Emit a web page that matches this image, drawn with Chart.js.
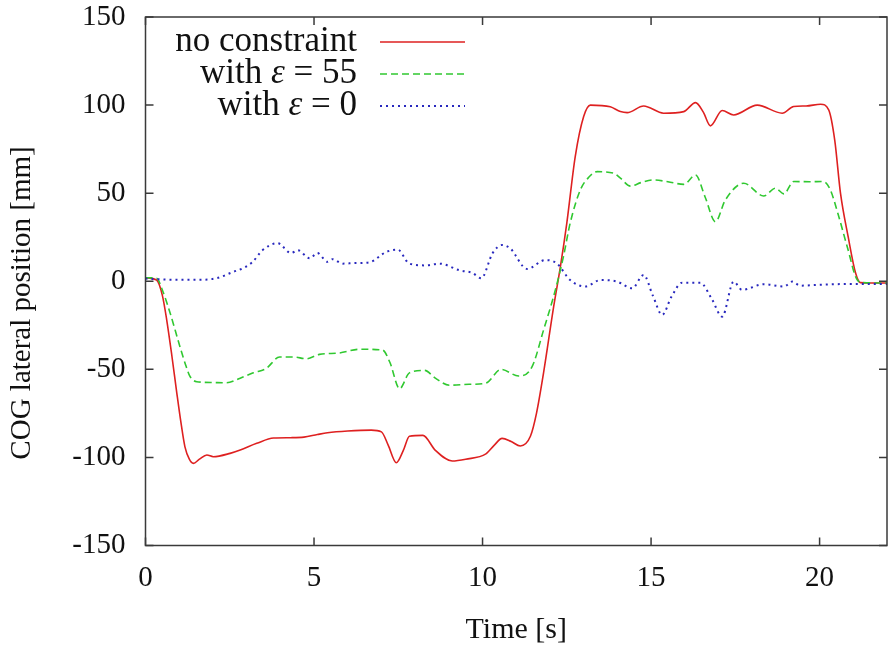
<!DOCTYPE html>
<html>
<head>
<meta charset="utf-8">
<title>COG lateral position</title>
<script src="https://cdn.jsdelivr.net/npm/chart.js@4.4.1/dist/chart.umd.min.js"></script>
<style>
  body { margin: 0; background: #fff; }
  #wrap { width: 896px; height: 648px; }
</style>
</head>
<body>
<div id="wrap"><canvas id="cogChart"></canvas></div>
<script>
// values (time in s, position in mm)
const seriesNames = ['no constraint', 'with \u03b5 = 55', 'with \u03b5 = 0'];

const redTime = [0, 0.33, 0.5, 0.63, 0.78, 0.93, 1.05, 1.17, 1.3, 1.42, 1.6, 1.82, 2.01, 2.51, 2.81, 3.3, 3.8, 4.3, 4.7, 5.1, 5.4, 6.0, 6.7, 7.0, 7.2, 7.44, 7.65, 7.83, 8.23, 8.6, 9.1, 9.5, 10.1, 10.35, 10.58, 10.85, 11.12, 11.42, 11.6, 11.81, 12.11, 12.31, 12.5, 12.75, 13.0, 13.2, 13.79, 14.09, 14.29, 14.78, 15.37, 15.97, 16.32, 16.55, 16.76, 17.11, 17.45, 18.15, 18.89, 19.23, 19.6, 20.03, 20.27, 20.45, 20.62, 20.85, 21.07, 21.21, 21.5, 22];
const redPos = [2, 0.7, -8, -22, -42, -63.6, -80, -94, -101, -103.4, -101, -98.6, -99.6, -97.7, -95.8, -92, -89, -88.8, -88.5, -87, -86, -85, -84.5, -85.5, -93, -103, -96, -88, -87.5, -96, -102, -101, -98, -93, -89.2, -91, -93.5, -88, -75, -52, -14.4, 8.3, 33, 70.8, 93.5, 100, 99, 96.3, 95.7, 99.5, 95.4, 96.3, 101.4, 96, 88.2, 96.9, 94.4, 100, 95.4, 99.2, 99.5, 100.5, 97.3, 80, 50, 25, 4.5, -0.8, -1, -1];

const greenTime = [0, 0.33, 0.5, 0.73, 1.02, 1.2, 1.32, 1.52, 2.0, 2.41, 2.81, 3.2, 3.58, 3.98, 4.4, 4.77, 5.16, 5.76, 6.35, 7.03, 7.25, 7.54, 7.83, 8.28, 8.6, 9.02, 9.6, 10.1, 10.55, 11.07, 11.47, 11.81, 12.16, 12.4, 12.6, 12.9, 13.15, 13.4, 13.89, 14.09, 14.39, 14.7, 15.08, 15.5, 15.97, 16.32, 16.6, 16.91, 17.2, 17.75, 18.34, 18.69, 18.94, 19.23, 19.7, 20.12, 20.32, 20.55, 20.82, 21.12, 21.3, 22];
const greenPos = [2, 1.7, -5, -18, -37, -48, -54, -57, -57.5, -57.6, -55, -52, -49.5, -43, -43, -44, -41.5, -40.7, -38.6, -39, -46, -61, -52, -50.6, -55, -59, -58.5, -57.8, -50, -53.8, -48.5, -27.7, -5, 14, 33, 51.8, 59, 62.2, 61.3, 58.5, 54, 56, 57.5, 56.5, 55, 60.3, 48, 33.8, 46, 55.6, 48.4, 52.8, 49.6, 56.6, 56.5, 56.6, 51.8, 38, 19.6, 0.7, -0.8, -1];

const blueTime = [0, 0.5, 1.0, 1.5, 2.1, 2.6, 2.9, 3.18, 3.47, 3.92, 4.32, 4.52, 4.87, 5.1, 5.4, 5.55, 5.85, 6.2, 6.65, 7.14, 7.48, 7.83, 8.33, 8.72, 9.32, 9.7, 9.96, 10.3, 10.58, 10.82, 11.32, 11.86, 12.2, 12.6, 13.05, 13.5, 13.99, 14.44, 14.78, 15.05, 15.33, 15.6, 15.92, 16.46, 16.8, 17.11, 17.45, 17.7, 18.34, 18.94, 19.19, 19.43, 20.0, 21.0, 22];
const bluePos = [1.5, 1, 0.8, 0.8, 1.7, 5.3, 7.5, 11, 17.6, 21.6, 16, 17.6, 13, 16, 11, 12.5, 10, 10.3, 10.8, 16.6, 18, 10, 9, 10, 6.2, 4.7, 1.7, 16, 20.6, 18.7, 7, 12, 10.2, 0.7, -3, 0.7, -0.2, -4, 3.6, -8, -19.1, -9, -0.8, -0.8, -10, -20.1, -0.2, -4.9, -1.7, -3, -0.2, -2.5, -2, -1.5, -1.5];

const xTicks = [0, 5, 10, 15, 20];
const yTicks = [-150, -100, -50, 0, 50, 100, 150];

const serif = "'Liberation Serif', 'Times New Roman', serif";
const lineColors = ['rgb(222,32,32)', 'rgb(48,200,48)', 'rgb(40,40,190)'];
const lineDashes = [[], [7, 4], [2, 4]];

function toPoints(ts, vs) {
    return ts.map((t, i) => ({ x: t, y: vs[i] }));
}

// gnuplot-style frame with inward ticks on all four sides, plus y title and key
const framePlugin = {
    id: 'frame',
    afterDatasetsDraw(chart) {
        const ctx = chart.ctx;
        const a = chart.chartArea;
        const xs = chart.scales.x, ys = chart.scales.y;
        const tl = 8;
        ctx.save();
        ctx.strokeStyle = '#3a3a3a';
        ctx.lineWidth = 1.5;
        ctx.strokeRect(a.left, a.top, a.right - a.left, a.bottom - a.top);
        ctx.beginPath();
        xTicks.forEach(v => {
            const px = xs.getPixelForValue(v);
            ctx.moveTo(px, a.bottom); ctx.lineTo(px, a.bottom - tl);
            ctx.moveTo(px, a.top); ctx.lineTo(px, a.top + tl);
        });
        yTicks.forEach(v => {
            const py = ys.getPixelForValue(v);
            ctx.moveTo(a.left, py); ctx.lineTo(a.left + tl, py);
            ctx.moveTo(a.right, py); ctx.lineTo(a.right - tl, py);
        });
        ctx.stroke();

        // y axis title, a bit below centre like the reference
        ctx.fillStyle = '#111';
        ctx.font = '29px ' + serif;
        ctx.translate(30, 303);
        ctx.rotate(-Math.PI / 2);
        ctx.textAlign = 'center';
        ctx.textBaseline = 'alphabetic';
        ctx.fillText('COG lateral position [mm]', 0, 0);
        ctx.restore();

        // key: right aligned text followed by a line sample
        const rowY = [42, 74, 106];
        const textRight = 357;
        ctx.save();
        ctx.fillStyle = '#111';
        ctx.textBaseline = 'alphabetic';
        ctx.textAlign = 'left';
        const normal = '35px ' + serif;
        const italic = 'italic 35px ' + serif;
        rowY.forEach((y, i) => {
            const name = seriesNames[i];
            const k = name.indexOf('\u03b5');
            let parts = k < 0 ? [[name, normal]] :
                [[name.slice(0, k), normal], ['\u03b5', italic], [name.slice(k + 1), normal]];
            let w = 0;
            parts.forEach(p => { ctx.font = p[1]; w += ctx.measureText(p[0]).width; });
            let x = textRight - w;
            parts.forEach(p => {
                ctx.font = p[1];
                ctx.fillText(p[0], x, y + 9);
                x += ctx.measureText(p[0]).width;
            });
            ctx.beginPath();
            ctx.strokeStyle = lineColors[i];
            ctx.lineWidth = i === 2 ? 2 : 1.6;
            ctx.setLineDash(lineDashes[i]);
            ctx.moveTo(380, y);
            ctx.lineTo(465, y);
            ctx.stroke();
        });
        ctx.restore();
    }
};

const datasets = [
    { data: toPoints(redTime, redPos) },
    { data: toPoints(greenTime, greenPos) },
    { data: toPoints(blueTime, bluePos) }
].map((d, i) => Object.assign(d, {
    label: seriesNames[i],
    borderColor: lineColors[i],
    borderWidth: i === 2 ? 2 : 1.6,
    borderDash: lineDashes[i],
    pointRadius: 0,
    fill: false,
    cubicInterpolationMode: 'monotone',
    order: 3 - i
}));

new Chart(document.getElementById('cogChart'), {
    type: 'line',
    data: { datasets: datasets },
    options: {
        responsive: true,
        maintainAspectRatio: false,
        animation: false,
        events: [],
        layout: { padding: { left: 0, right: 9, top: 17, bottom: 0 } },
        plugins: {
            legend: { display: false },
            tooltip: { enabled: false }
        },
        scales: {
            x: {
                type: 'linear',
                min: 0,
                max: 22,
                grid: { display: false, drawTicks: false },
                border: { display: false },
                afterBuildTicks: s => { s.ticks = xTicks.map(v => ({ value: v })); },
                afterFit: s => { s.height = 102.5; s.paddingLeft = 0; s.paddingRight = 0; },
                ticks: {
                    color: '#111',
                    padding: 15,
                    maxRotation: 0,
                    font: { family: serif, size: 29 }
                },
                title: {
                    display: true,
                    text: 'Time [s]',
                    color: '#111',
                    padding: { top: 4, bottom: 0 },
                    font: { family: serif, size: 30 }
                }
            },
            y: {
                min: -150,
                max: 150,
                grid: { display: false, drawTicks: false },
                border: { display: false },
                afterBuildTicks: s => { s.ticks = yTicks.map(v => ({ value: v })); },
                afterFit: s => { s.width = 145.5; s.paddingTop = 0; s.paddingBottom = 0; },
                ticks: {
                    color: '#111',
                    padding: 20,
                    font: { family: serif, size: 29 }
                }
            }
        }
    },
    plugins: [framePlugin]
});
</script>
</body>
</html>
